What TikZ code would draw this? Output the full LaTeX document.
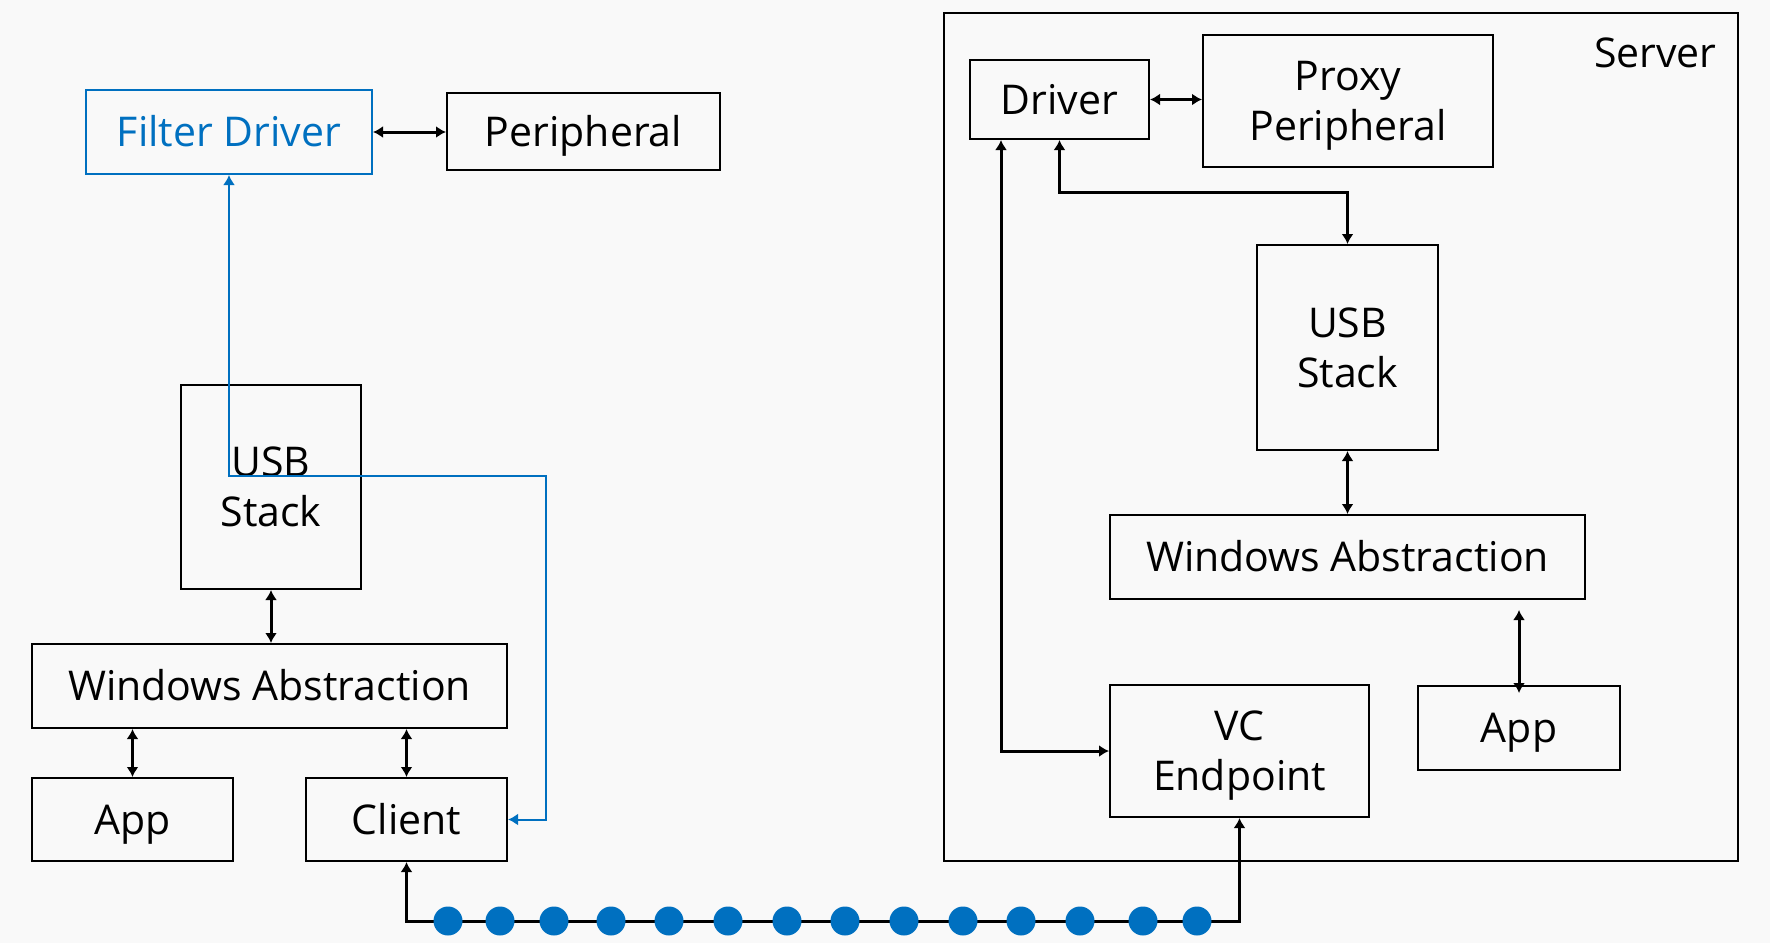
\documentclass[tikz,border=0pt]{standalone}
\usepackage{fontspec}
\setmainfont{Open Sans}
\usetikzlibrary{arrows.meta}
\definecolor{msblue}{HTML}{0070C0}
\definecolor{bgray}{HTML}{F9F9F9}
\tikzset{
  box/.style={draw, line width=1pt, inner sep=0pt, align=center, text=black, text depth=0pt},
  oneline/.style={text height=14.6pt},
  link/.style={line width=1.5pt, {Latex[length=5pt,width=6pt]}-{Latex[length=5pt,width=6pt]}},
}
\begin{document}
\begin{tikzpicture}[x=0.5pt, y=-0.5pt, font=\fontsize{20.5}{25}\selectfont, line join=miter]
  \useasboundingbox[fill=bgray] (0,0) rectangle (1770,943);
  % Server frame
  \node[box, minimum width=397pt, minimum height=424pt] (server) at (1341,437) {};
  \node[anchor=base east, inner sep=0pt] (srvlbl) at (1717,67) {Server};
  % left side
  \node[box, oneline, draw=msblue, text=msblue, minimum width=143pt, minimum height=42pt] (fdrv) at (229,132) {Filter Driver};
  \node[box, oneline, minimum width=136.5pt, minimum height=38.5pt] (peri) at (583.5,131.5) {Peripheral};
  \node[box, minimum width=90pt, minimum height=102pt] (lusb) at (271,487) {USB\\Stack};
  \node[box, oneline, minimum width=237.5pt, minimum height=42pt] (lwa) at (269.5,686) {Windows Abstraction};
  \node[box, oneline, minimum width=100.5pt, minimum height=41.5pt] (lapp) at (132.5,819.5) {App};
  \node[box, oneline, minimum width=100.5pt, minimum height=41.5pt] (client) at (406.5,819.5) {Client};
  % right side
  \node[box, oneline, minimum width=89.5pt, minimum height=39.5pt] (drv) at (1059.5,99.5) {Driver};
  \node[box, minimum width=145pt, minimum height=66pt] (proxy) at (1348,101) {Proxy\\Peripheral};
  \node[box, minimum width=90.5pt, minimum height=102.5pt] (susb) at (1347.5,347.5) {USB\\Stack};
  \node[box, oneline, minimum width=237.5pt, minimum height=42pt] (swa) at (1347.5,557) {Windows Abstraction};
  \node[box, oneline, minimum width=101pt, minimum height=42pt] (sapp) at (1519,728) {App};
  \node[box, minimum width=129.5pt, minimum height=66pt] (vc) at (1239.5,751) {VC\\Endpoint};
  % connectors
  \coordinate (fbend) at (546,476);
  \coordinate (dbend) at (1200,192);
  \coordinate (wire) at (800,921);
  \draw[link] (fdrv.east) -- (fdrv.east -| peri.west);
  \draw[link] (lusb.south) -- (lusb.south |- lwa.north);
  \draw[link] (lwa.south -| lapp) -- (lapp.north);
  \draw[link] (lwa.south -| client) -- (client.north);
  \draw[link, line width=1pt, msblue] (fdrv.south) |- (fbend) |- (client.east);
  \draw[link] (drv.east) -- (drv.east -| proxy.west);
  \draw[link] (drv.south) |- (dbend) -| (susb.north);
  \draw[link] ([xshift=16pt]drv.south west) |- (vc.west);
  \draw[link] (susb.south) -- (swa.north);
  \draw[link, shorten <=5pt, shorten >=-4pt] (swa.south -| sapp) -- (sapp.north);
  \draw[link] (client.south) |- (wire) -| (vc.south);
  \foreach \p in {448,500,554,611,669,728,787,845,904,963,1021,1080,1143,1197}
    \fill[msblue] (\p,921) circle (7.25pt);
\end{tikzpicture}
\end{document}
